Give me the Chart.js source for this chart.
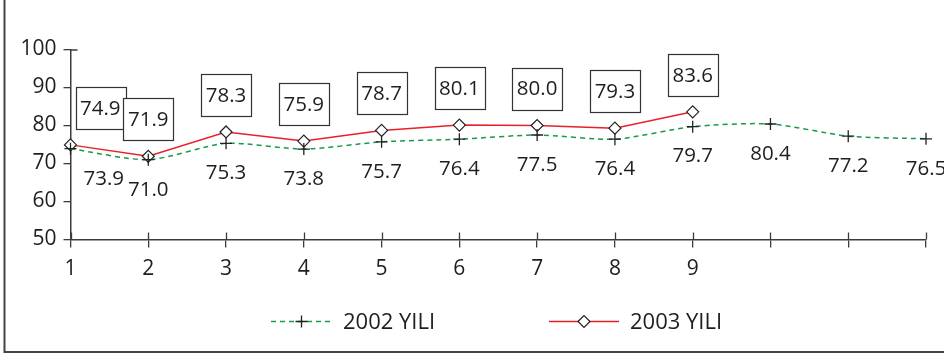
<!DOCTYPE html>
<html>
<head>
<meta charset="utf-8">
<style>
  html, body { margin: 0; padding: 0; background: #fff; }
  #wrap { width: 944px; height: 353px; position: relative; }
</style>
<script src="https://cdn.jsdelivr.net/npm/chart.js@4.4.0/dist/chart.umd.min.js"></script>
</head>
<body>
<div id="wrap"><canvas id="c" width="944" height="353"></canvas></div>
<script>
// Months (only the first nine carry a label on the axis)
const months = ['1', '2', '3', '4', '5', '6', '7', '8', '9', '', '', ''];
// Monthly values per year
const yili2002 = [73.9, 71.0, 75.3, 73.8, 75.7, 76.4, 77.5, 76.4, 79.7, 80.4, 77.2, 76.5];
const yili2003 = [74.9, 71.9, 78.3, 75.9, 78.7, 80.1, 80.0, 79.3, 83.6, null, null, null];
const seriesNames = ['2002 YILI', '2003 YILI'];
// Value axis range and step
const yMin = 50, yMax = 100, yStep = 10;

const FONT = '"Open Sans", "Noto Sans", sans-serif';
const AXIS = '#3c3c3c';
const TEXT = '#1e1e1e';
const GREEN = '#179a4c';
const RED = '#e8202a';

// Outer frame (left and bottom edges), label boxes, legend and crossing ticks
const decorations = {
  id: 'decorations',
  beforeDraw(chart) {
    const ctx = chart.ctx;
    ctx.save();
    ctx.fillStyle = '#fff';
    ctx.fillRect(0, 0, chart.width, chart.height);
    ctx.strokeStyle = '#444';
    ctx.lineWidth = 2;
    ctx.beginPath();
    ctx.moveTo(4.5, 0);
    ctx.lineTo(4.5, 352);
    ctx.lineTo(chart.width, 352);
    ctx.stroke();
    ctx.restore();
  },
  afterDraw(chart) {
    const ctx = chart.ctx;
    const area = chart.chartArea;
    const xs = chart.scales.x;
    ctx.save();

    // upper half of the category ticks, crossing the axis
    ctx.strokeStyle = AXIS;
    ctx.lineWidth = 1.3;
    ctx.beginPath();
    for (let i = 0; i < months.length; i++) {
      const px = Math.round(xs.getPixelForTick(i)) + 0.5;
      ctx.moveTo(px, area.bottom - 7);
      ctx.lineTo(px, area.bottom);
    }
    // top value tick extends to the right as well
    ctx.moveTo(area.left, area.top + 0.5);
    ctx.lineTo(area.left + 7, area.top + 0.5);
    ctx.stroke();

    ctx.font = '20.5px ' + FONT;
    ctx.textAlign = 'center';
    ctx.textBaseline = 'middle';
    ctx.fillStyle = TEXT;

    // 2002 values written under the points
    const m0 = chart.getDatasetMeta(0);
    m0.data.forEach((pt, i) => {
      const v = yili2002[i];
      if (v == null) return;
      const txt = v.toFixed(1);
      const w = ctx.measureText(txt).width;
      const cx = Math.max(pt.x, area.left + 13 + w / 2);
      ctx.fillText(txt, cx, pt.y + 30);
    });

    // 2003 values in boxes above the points
    const m1 = chart.getDatasetMeta(1);
    m1.data.forEach((pt, i) => {
      const v = yili2003[i];
      if (v == null) return;
      const txt = v.toFixed(1);
      const w = ctx.measureText(txt).width + 9;
      const h = 42;
      const cx = Math.max(pt.x, area.left + 5 + w / 2);
      const cy = pt.y - 37;
      ctx.fillStyle = '#fff';
      ctx.fillRect(cx - w / 2, cy - h / 2, w, h);
      ctx.strokeStyle = '#333';
      ctx.lineWidth = 1.2;
      ctx.strokeRect(Math.round(cx - w / 2) + 0.5, Math.round(cy - h / 2) + 0.5, Math.round(w), h);
      ctx.fillStyle = TEXT;
      ctx.fillText(txt, cx, cy + 1);
    });

    // legend
    const ly = 321.5;
    const items = [
      { x0: 271, x1: 332, ds: chart.data.datasets[0] },
      { x0: 549, x1: 619, ds: chart.data.datasets[1] }
    ];
    ctx.font = '22px ' + FONT;
    ctx.textAlign = 'left';
    items.forEach(it => {
      const ds = it.ds;
      ctx.strokeStyle = ds.borderColor;
      ctx.lineWidth = ds.borderWidth;
      ctx.setLineDash(ds.borderDash || []);
      ctx.beginPath();
      ctx.moveTo(it.x0, ly);
      ctx.lineTo(it.x1, ly);
      ctx.stroke();
      ctx.setLineDash([]);
      const mx = (it.x0 + it.x1) / 2;
      ctx.save();
      ctx.fillStyle = ds.pointBackgroundColor;
      ctx.strokeStyle = ds.pointBorderColor;
      ctx.lineWidth = ds.pointBorderWidth;
      Chart.helpers.drawPoint(ctx, { pointStyle: ds.pointStyle, radius: ds.pointRadius, borderWidth: ds.pointBorderWidth, rotation: 0 }, mx, ly);
      ctx.restore();
      ctx.fillStyle = TEXT;
      ctx.fillText(ds.label, it.x1 + 11, ly + 1);
    });
    ctx.restore();
  }
};

new Chart(document.getElementById('c'), {
  type: 'line',
  data: {
    labels: months,
    datasets: [
      {
        label: seriesNames[0],
        data: yili2002,
        borderColor: GREEN,
        borderWidth: 1.5,
        borderDash: [5, 4],
        tension: 0.25,
        pointStyle: 'cross',
        pointRadius: 6,
        pointBorderWidth: 1.3,
        pointBorderColor: '#222',
        pointBackgroundColor: '#222',
        fill: false
      },
      {
        label: seriesNames[1],
        data: yili2003,
        borderColor: RED,
        borderWidth: 1.5,
        tension: 0,
        pointStyle: 'rectRot',
        pointRadius: 6,
        pointBorderWidth: 1.2,
        pointBorderColor: '#222',
        pointBackgroundColor: '#fff',
        fill: false,
        spanGaps: false
      }
    ]
  },
  options: {
    responsive: false,
    devicePixelRatio: 1,
    animation: false,
    clip: false,
    layout: { padding: { left: 0, right: 18, top: 49.5, bottom: 0 } },
    plugins: {
      legend: { display: false },
      tooltip: { enabled: false }
    },
    scales: {
      x: {
        offset: false,
        afterFit(scale) { scale.height = 353 - 49.5 - 190; },
        border: { display: true, color: AXIS, width: 1.5 },
        grid: { display: true, drawOnChartArea: false, drawTicks: true, tickLength: 8, color: AXIS, lineWidth: 1.3 },
        ticks: { color: TEXT, font: { family: FONT, size: 21 }, padding: 9, maxRotation: 0, autoSkip: false }
      },
      y: {
        min: yMin,
        max: yMax,
        afterFit(scale) { scale.width = 70.5; },
        border: { display: true, color: AXIS, width: 1.5 },
        grid: { display: true, drawOnChartArea: false, drawTicks: true, tickLength: 7, color: AXIS, lineWidth: 1.3 },
        ticks: { stepSize: yStep, color: TEXT, font: { family: FONT, size: 21 }, padding: 7 }
      }
    }
  },
  plugins: [decorations]
});
</script>
</body>
</html>
